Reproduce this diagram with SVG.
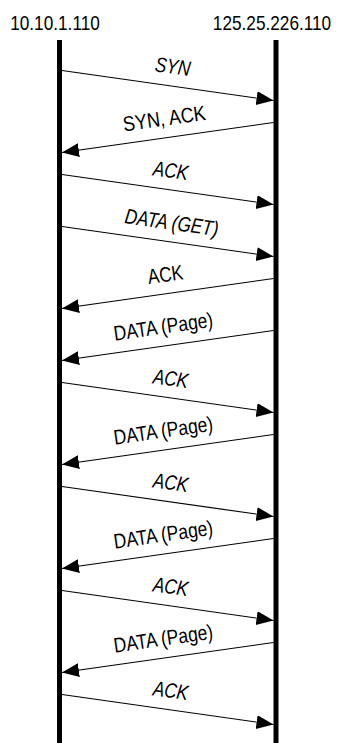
<svg xmlns="http://www.w3.org/2000/svg" width="340" height="743" viewBox="0 0 340 743">
  <style>
    .host, .lbl { font-family: "Liberation Sans", Arial, sans-serif; font-size: 21px; fill: #000; text-anchor: middle; }
    .it { font-style: italic; }
    .life { stroke: #000; stroke-width: 5; }
    .msg { stroke: #000; stroke-width: 1.2; fill: none; marker-end: url(#head); }
  </style>
  <defs>
    <marker id="head" markerUnits="userSpaceOnUse" markerWidth="18" markerHeight="16" refX="17" refY="7" orient="auto">
      <path d="M0,0 L17,7 L0,14 Z" fill="#000"/>
    </marker>
  </defs>
  <rect width="340" height="743" fill="#fff"/>

  <!-- hosts with their lifelines; text is drawn condensed (scaleX 0.82) -->
  <g id="client">
    <text class="host" transform="translate(55,30) scale(0.82,1)">10.10.1.110</text>
    <line class="life" x1="59.5" y1="40" x2="59.5" y2="743"/>
  </g>
  <g id="server">
    <text class="host" transform="translate(272,30) scale(0.82,1)">125.25.226.110</text>
    <line class="life" x1="276" y1="40" x2="276" y2="743"/>
  </g>

  <!-- messages: each row is 52px lower than the one before -->
  <g id="connectors">
    <line class="msg" x1="62" y1="70.5" x2="273.5" y2="100.5"/>
    <line class="msg" x1="273.5" y1="122.5" x2="62" y2="152.5"/>
    <line class="msg" x1="62" y1="174.5" x2="273.5" y2="204.5"/>
    <line class="msg" x1="62" y1="226.5" x2="273.5" y2="256.5"/>
    <line class="msg" x1="273.5" y1="278.5" x2="62" y2="308.5"/>
    <line class="msg" x1="273.5" y1="330.5" x2="62" y2="360.5"/>
    <line class="msg" x1="62" y1="382.5" x2="273.5" y2="412.5"/>
    <line class="msg" x1="273.5" y1="434.5" x2="62" y2="464.5"/>
    <line class="msg" x1="62" y1="486.5" x2="273.5" y2="516.5"/>
    <line class="msg" x1="273.5" y1="538.5" x2="62" y2="568.5"/>
    <line class="msg" x1="62" y1="590.5" x2="273.5" y2="620.5"/>
    <line class="msg" x1="273.5" y1="642.5" x2="62" y2="672.5"/>
    <line class="msg" x1="62" y1="694.5" x2="273.5" y2="724.5"/>
  </g>

  <!-- message labels, tilted along their lines -->
  <g id="labels">
    <text class="lbl it" transform="translate(170,85.5) rotate(8.1) translate(0,-12) scale(0.82,1)">SYN</text>
    <text class="lbl" transform="translate(167,137.5) rotate(-8.1) translate(0,-12) scale(0.86,1)">SYN, ACK</text>
    <text class="lbl it" transform="translate(168,189.5) rotate(8.1) translate(0,-12) scale(0.82,1)">ACK</text>
    <text class="lbl it" transform="translate(169,241.5) rotate(8.1) translate(0,-12) scale(0.82,1)">DATA (GET)</text>
    <text class="lbl" transform="translate(168,293.5) rotate(-8.1) translate(0,-12) scale(0.82,1)">ACK</text>
    <text class="lbl" transform="translate(166,345.5) rotate(-8.1) translate(0,-12) scale(0.83,1)">DATA (Page)</text>
    <text class="lbl it" transform="translate(168,397.5) rotate(8.1) translate(0,-12) scale(0.82,1)">ACK</text>
    <text class="lbl" transform="translate(166,449.5) rotate(-8.1) translate(0,-12) scale(0.83,1)">DATA (Page)</text>
    <text class="lbl it" transform="translate(168,501.5) rotate(8.1) translate(0,-12) scale(0.82,1)">ACK</text>
    <text class="lbl" transform="translate(166,553.5) rotate(-8.1) translate(0,-12) scale(0.83,1)">DATA (Page)</text>
    <text class="lbl it" transform="translate(168,605.5) rotate(8.1) translate(0,-12) scale(0.82,1)">ACK</text>
    <text class="lbl" transform="translate(166,657.5) rotate(-8.1) translate(0,-12) scale(0.83,1)">DATA (Page)</text>
    <text class="lbl it" transform="translate(168,709.5) rotate(8.1) translate(0,-12) scale(0.82,1)">ACK</text>
  </g>
</svg>
